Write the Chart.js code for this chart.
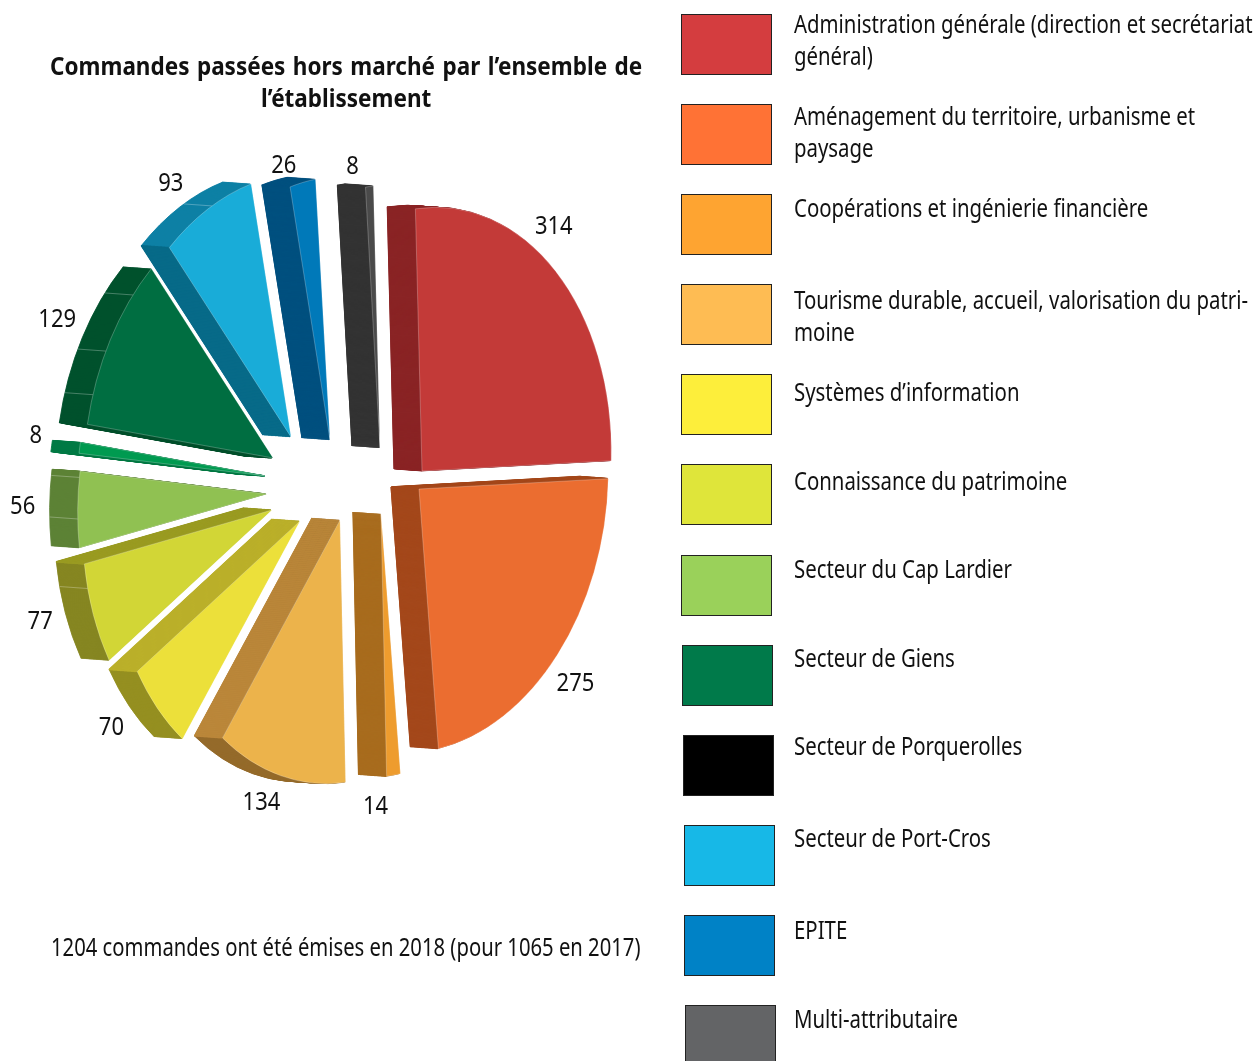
<!DOCTYPE html>
<html lang="fr">
<head>
<meta charset="utf-8">
<title>Commandes hors marché</title>
<script src="https://cdn.jsdelivr.net/npm/chart.js@4"></script>
<style>
  html, body { margin: 0; padding: 0; background: #fff; }
  #page { position: relative; width: 1259px; height: 1061px; overflow: hidden; font-family: "Noto Sans", sans-serif; color: #111; }
  #pie { position: absolute; left: 0; top: 0; }
  .txt { position: absolute; white-space: pre; font-size: 25px; line-height: 32px; transform-origin: left top; }
  .swatch { position: absolute; width: 89px; height: 59px; border: 1px solid #222; }
  #title { left: 50px; top: 49px; width: 658px; font-weight: 700; white-space: normal; text-align: center; transform: scaleX(0.9); }
  #title .first { display: block; text-align: justify; text-align-last: justify; }
  #note { left: 51px; top: 930px; transform: scaleX(0.81); }
</style>
</head>
<body>
<div id="page">
  <canvas id="pie" width="1259" height="1061"></canvas>
  <div class="txt" id="title"><span class="first">Commandes passées hors marché par l’ensemble de</span>l’établissement</div>
  <div class="txt" id="note">1204 commandes ont été émises en 2018 (pour 1065 en 2017)</div>
</div>
<script>
const categories = [
  "Administration générale (direction et secrétariat\ngénéral)",
  "Aménagement du territoire, urbanisme et\npaysage",
  "Coopérations et ingénierie financière",
  "Tourisme durable, accueil, valorisation du patri-\nmoine",
  "Systèmes d’information",
  "Connaissance du patrimoine",
  "Secteur du Cap Lardier",
  "Secteur de Giens",
  "Secteur de Porquerolles",
  "Secteur de Port-Cros",
  "EPITE",
  "Multi-attributaire",
];
const values = [314, 275, 14, 134, 70, 77, 56, 8, 129, 93, 26, 8];

const legendColors = ["#d43d3f", "#ff7235", "#fea431", "#febc53", "#fdee3b", "#dfe53a", "#9ad15a", "#007a4a", "#000000", "#17b8e7", "#0082c6", "#636466"];
const faceColors = ["#c33a38", "#eb6d30", "#ee9c2e", "#ecb34b", "#ece03a", "#d2d636", "#90c152", "#009a50", "#006e41", "#19acd8", "#0079b9", "#4a4a4a"];
const sideEdgeColors = ["#8a2425", "#a4481b", "#a86c1e", "#bb873a", "#bbb02a", "#9a9b22", "#5d8236", "#007a45", "#00512d", "#076a88", "#00507f", "#333333"];
const sideArcColors = ["#8a2425", "#a4481b", "#a86c1e", "#956a2a", "#958f20", "#868621", "#5d8236", "#007a45", "#00512d", "#0e80a5", "#00507f", "#333333"];

// hand-pulled explosion of each slice, from the pie centre
const explode = [[78, -8], [75, 10], [37, 35], [-4, 41], [-44, 42], [-72, 31], [-77, 15], [-78, -3], [-71, -21], [-53, -42], [-14, -39], [36, -31]];
// value label, relative to the middle of the slice's outer arc
const labelNudge = [[-2, -45], [18, 29], [-18, 32], [-19, 27], [-46, 19], [-53, 8], [-55, -3], [-44, -12], [-53, -20], [-37, -25], [-19, -17], [-17, -20]];
// thin lines on the slice rims, as a fraction of the slice's sweep
const rimSeams = [[], [], [], [], [], [0.76], [0.38, 0.92], [], [0.17, 0.43, 0.8], [0.55], [], []];

const swatchTop = [14, 104, 194, 284, 374, 464, 555, 645, 735, 825, 915, 1005];
const swatchLeft = [681, 681, 681, 681, 681, 681, 681, 682, 683, 684, 684, 685];
const labelTop = [7, 99, 191, 283, 375, 464, 552, 641, 729, 821, 913, 1002];

const TILT = { a: 0.72, b: -0.072, c: 0, d: 1 };
const DEPTH = { x: -28, y: -2, steps: 28 };

const page = document.getElementById("page");
categories.forEach((name, i) => {
  const box = document.createElement("div");
  box.className = "swatch";
  box.style.left = swatchLeft[i] + "px";
  box.style.top = swatchTop[i] + "px";
  box.style.background = legendColors[i];
  page.appendChild(box);
  const label = document.createElement("div");
  label.className = "txt";
  label.textContent = name;
  label.style.left = "794px";
  label.style.top = labelTop[i] + "px";
  label.style.transform = "scaleX(0.815)";
  page.appendChild(label);
});

function withOptions(arc, patch, fn) {
  const old = arc.options;
  arc.options = { ...old, ...patch };
  fn();
  arc.options = old;
}

function placed(ctx, arc, i, k) {
  ctx.save();
  ctx.translate(arc.x + explode[i][0] + DEPTH.x * k, arc.y + explode[i][1] + DEPTH.y * k);
  ctx.transform(TILT.a, TILT.b, TILT.c, TILT.d, 0, 0);
  ctx.translate(-arc.x, -arc.y);
}

function project(arc, i, angle, k) {
  const px = arc.outerRadius * Math.cos(angle);
  const py = arc.outerRadius * Math.sin(angle);
  return {
    x: arc.x + explode[i][0] + DEPTH.x * k + TILT.a * px + TILT.c * py,
    y: arc.y + explode[i][1] + DEPTH.y * k + TILT.b * px + TILT.d * py,
  };
}

// a cut face only shows if it looks toward the extrusion direction
function edgeVisible(arc, i, edge, mid) {
  const apexX = arc.x + explode[i][0];
  const apexY = arc.y + explode[i][1];
  const e = project(arc, i, edge, 0);
  const m = project(arc, i, mid, 0);
  let nx = -(e.y - apexY);
  let ny = e.x - apexX;
  if (nx * (m.x - apexX) + ny * (m.y - apexY) > 0) { nx = -nx; ny = -ny; }
  return nx * DEPTH.x + ny * DEPTH.y > 0;
}

function drawSide(ctx, arc, i) {
  for (let s = DEPTH.steps; s > 0; s--) {
    placed(ctx, arc, i, s / DEPTH.steps);
    withOptions(arc, { backgroundColor: sideArcColors[i], borderColor: sideArcColors[i], borderWidth: 1 }, () => arc.draw(ctx));
    ctx.restore();
  }
  const from = arc.startAngle, to = arc.endAngle, sweep = arc.circumference;
  [from, to].forEach((edge) => {
    if (!edgeVisible(arc, i, edge, (from + to) / 2)) return;
    arc.startAngle = edge - 0.001;
    arc.endAngle = edge + 0.001;
    arc.circumference = 0.002;
    for (let s = DEPTH.steps; s > 0; s--) {
      placed(ctx, arc, i, s / DEPTH.steps);
      withOptions(arc, { backgroundColor: sideEdgeColors[i], borderColor: sideEdgeColors[i], borderWidth: 1.4 }, () => arc.draw(ctx));
      ctx.restore();
    }
    arc.startAngle = from;
    arc.endAngle = to;
    arc.circumference = sweep;
  });

  ctx.strokeStyle = "rgba(255,255,255,0.35)";
  ctx.lineWidth = 0.8;
  rimSeams[i].forEach((f) => {
    const angle = from + sweep * f;
    const p0 = project(arc, i, angle, 0);
    const p1 = project(arc, i, angle, 1);
    ctx.beginPath();
    ctx.moveTo(p0.x, p0.y);
    ctx.lineTo(p1.x, p1.y);
    ctx.stroke();
  });
}

const tiltedPie = {
  id: "tiltedPie",
  beforeDatasetDraw(chart, args) {
    const ctx = chart.ctx;
    const arcs = args.meta.data;
    arcs.forEach((arc, i) => drawSide(ctx, arc, i));
    arcs.forEach((arc, i) => {
      placed(ctx, arc, i, 0);
      arc.draw(ctx);
      ctx.restore();
    });
    return false;
  },
  afterDatasetsDraw(chart) {
    const ctx = chart.ctx;
    ctx.save();
    ctx.fillStyle = "#111";
    ctx.font = '25px "Noto Sans"';
    ctx.textAlign = "center";
    ctx.textBaseline = "middle";
    chart.getDatasetMeta(0).data.forEach((arc, i) => {
      const p = project(arc, i, (arc.startAngle + arc.endAngle) / 2, 0);
      ctx.save();
      ctx.translate(p.x + labelNudge[i][0], p.y + labelNudge[i][1]);
      ctx.scale(0.88, 1);
      ctx.fillText(String(values[i]), 0, 0);
      ctx.restore();
    });
    ctx.restore();
  },
};

new Chart(document.getElementById("pie"), {
  type: "pie",
  data: {
    labels: categories,
    datasets: [{
      data: values,
      backgroundColor: faceColors,
      borderColor: "rgba(255,255,255,0.4)",
      borderWidth: 0.7,
      radius: 263,
      hoverOffset: 0,
    }],
  },
  options: {
    responsive: false,
    animation: false,
    rotation: -2,
    layout: { padding: { right: 571, bottom: 103 } },
    plugins: { legend: { display: false }, title: { display: false }, tooltip: { enabled: false } },
    events: [],
  },
  plugins: [tiltedPie],
});
</script>
</body>
</html>
